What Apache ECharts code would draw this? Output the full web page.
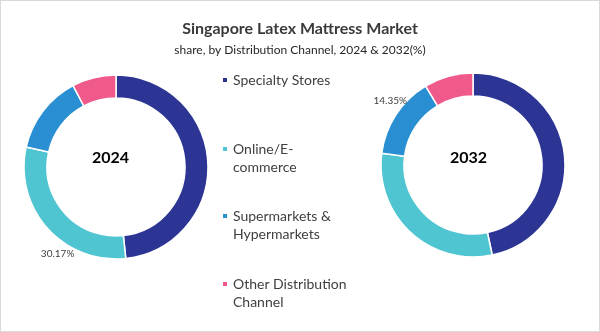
<!DOCTYPE html>
<html>
<head>
<meta charset="utf-8">
<script src="https://cdn.jsdelivr.net/npm/echarts@6/dist/echarts.min.js"></script>
<style>
html,body{margin:0;padding:0;background:#fff;}
#wrap{width:600px;height:332px;box-sizing:border-box;border:1px solid #d9d9d9;}
#chart{width:598px;height:330px;}
</style>
</head>
<body>
<div id="wrap"><div id="chart"></div></div>
<script>
const categories = ['Specialty Stores', 'Online/E-commerce', 'Supermarkets & Hypermarkets', 'Other Distribution Channel'];
const legendLabels = ['Specialty Stores', 'Online/E-\ncommerce', 'Supermarkets &\nHypermarkets', 'Other Distribution\nChannel'];
const years = ['2024', '2032'];
const share2024 = [48.3, 30.17, 13.8, 7.73];
const share2032 = [46.65, 30.4, 14.35, 8.6];
const labelledIndex = [1, 2];
const colors = ['#2c3594', '#4fc5d1', '#2a8fd2', '#ef5a8b'];

const FONT = 'Lato';
const chart = echarts.init(document.getElementById('chart'), null, {renderer: 'canvas'});

function makeData(values, li) {
  return categories.map((c, i) => ({
    name: c,
    value: values[i],
    label: {show: i === li}
  }));
}

const centers = [[115, 166], [472, 164]];
const labelShift = [[32, 25], [16, -14]];
const series = [share2024, share2032].map((vals, k) => ({
  type: 'pie',
  name: years[k],
  radius: [69, 92],
  center: centers[k],
  startAngle: 90,
  clockwise: true,
  avoidLabelOverlap: false,
  itemStyle: {borderColor: '#fff', borderWidth: 1.5},
  emphasis: {disabled: true},
  label: {
    show: false,
    position: 'outside',
    formatter: p => p.value.toFixed(2) + '%',
    fontFamily: FONT,
    fontSize: 10,
    color: '#404040'
  },
  labelLine: {show: false, length: 0, length2: 0},
  labelLayout: () => ({dx: labelShift[k][0], dy: labelShift[k][1]}),
  data: makeData(vals, labelledIndex[k])
}));

const legendTops = [70, 121, 188, 256];
const legends = categories.map((c, i) => {
  const multi = legendLabels[i].indexOf('\n') >= 0;
  return {
    orient: 'vertical',
    left: 220,
    top: legendTops[i],
    padding: 0,
    icon: 'rect',
    itemWidth: 6,
    itemHeight: 6,
    itemGap: 0,
    selectedMode: false,
    data: [c],
    formatter: () => (multi ? '\n' : '') + legendLabels[i],
    textStyle: {
      fontFamily: FONT,
      fontSize: 14,
      color: '#404040',
      lineHeight: 18
    }
  };
});

chart.setOption({
  color: colors,
  animation: false,
  title: [
    {
      text: 'Singapore Latex Mattress Market',
      left: 'center',
      top: 15,
      textStyle: {fontFamily: FONT, fontSize: 16, fontWeight: 'bold', color: '#3a3a3a'}
    },
    {
      text: 'share, by Distribution Channel, 2024 & 2032(%)',
      left: 'center',
      top: 38,
      textStyle: {fontFamily: FONT, fontSize: 12, fontWeight: 'normal', color: '#262626'}
    },
    {
      text: years[0], left: 91, top: 149, padding: 0,
      textStyle: {fontFamily: FONT, fontSize: 16, fontWeight: 'bold', color: '#000'}
    },
    {
      text: years[1], left: 449, top: 149, padding: 0,
      textStyle: {fontFamily: FONT, fontSize: 16, fontWeight: 'bold', color: '#000'}
    }
  ],
  legend: legends,
  series: series
});
</script>
</body>
</html>
